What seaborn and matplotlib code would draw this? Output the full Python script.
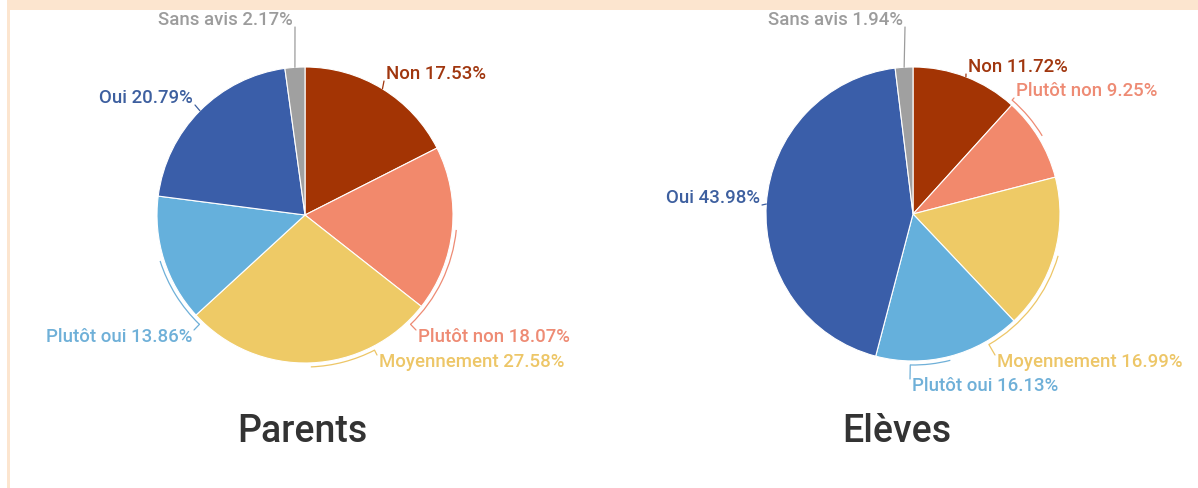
import numpy as np
import matplotlib
matplotlib.use("Agg")
import matplotlib.pyplot as plt
from matplotlib.patches import Rectangle, Arc
import seaborn as sns

# Survey answers, in clockwise order from 12 o'clock
categories = ["Non", "Plutôt non", "Moyennement", "Plutôt oui", "Oui", "Sans avis"]
parents = [17.53, 18.07, 27.58, 13.86, 20.79, 2.17]
eleves = [11.72, 9.25, 16.99, 16.13, 43.98, 1.94]
titles = ["Parents", "Elèves"]

sns.set_theme(style="white")
plt.rcParams["font.family"] = ["Roboto", "DejaVu Sans"]

slice_colors = sns.color_palette(["#A33404", "#F2896C", "#EECA66", "#65B0DC", "#3A5EA9", "#A0A0A0"])
text_colors = ["#A0360E", "#EE8B74", "#EDC667", "#6FB0D8", "#3D5F9F", "#9C9C9C"]

W, H = 1198, 488
fig = plt.figure(figsize=(W / 100, H / 100), dpi=100, facecolor="white")
ax = fig.add_axes([0, 0, 1, 1])

# page frame
ax.add_patch(Rectangle((7, 0), W - 7, H, facecolor="#FCE5CF", edgecolor="none", zorder=0))
ax.add_patch(Rectangle((10, 0), W - 10, H - 10, facecolor="white", edgecolor="none", zorder=0))


def yy(y_top):
    return H - y_top


# layout of each pie: centre, radius, label anchors (x, y_top, ha), leader style
layouts = [
    dict(center=(305, 215), radius=148, title_x=302,
         labels=[(386, 74, "left"), (418, 337, "left"), (379, 362, "left"),
                 (192, 337, "right"), (193, 98, "right"), (293, 20, "right")],
         arc=[False, True, True, True, False, False]),
    dict(center=(913, 214), radius=147, title_x=897,
         labels=[(968, 67, "left"), (1016, 91, "left"), (997, 362, "left"),
                 (912, 386, "left"), (760, 198, "right"), (903, 20, "right")],
         arc=[False, True, True, True, False, False]),
]

for values, title, lay in zip([parents, eleves], titles, layouts):
    cx, cy = lay["center"]
    cy = yy(cy)
    r = lay["radius"]
    ax.pie(values, colors=slice_colors, startangle=90, counterclock=False,
           radius=r, center=(cx, cy), frame=False,
           wedgeprops=dict(edgecolor="white", linewidth=0.8))
    cum = np.cumsum([0] + values)
    for i, (cat, v) in enumerate(zip(categories, values)):
        a0 = 90 - cum[i] / 100 * 360
        a1 = 90 - cum[i + 1] / 100 * 360
        mid = (a0 + a1) / 2
        lx, ly, ha = lay["labels"][i]
        ly = yy(ly)
        col = text_colors[i]
        # where the leader meets the label
        tx = lx + (-2 if ha == "left" else 2)
        ty = ly + 7 if ly < cy else ly - 7
        if lay["arc"][i]:
            rb = r + 4
            end = np.degrees(np.arctan2(ty - cy, tx - cx))
            if end - mid > 180:
                end -= 360
            if mid - end > 180:
                end += 360
            ax.add_patch(Arc((cx, cy), 2 * rb, 2 * rb, theta1=min(mid, end),
                             theta2=max(mid, end), color=col, lw=0.9, zorder=3))
            e = np.deg2rad(end)
            px, py = cx + rb * np.cos(e), cy + rb * np.sin(e)
        else:
            m = np.deg2rad(mid)
            px, py = cx + r * np.cos(m), cy + r * np.sin(m)
        ax.plot([px, tx], [py, ty], color=col, lw=0.9, zorder=3,
                solid_capstyle="round")
        ax.text(lx, ly, f"{cat} {v:.2f}%", ha=ha, va="center",
                fontsize=13.4, fontweight="medium", color=col, zorder=4)
    ax.text(lay["title_x"], yy(432), title, ha="center", va="center",
            fontsize=27, fontweight="medium", color="#333333")

# the pies reset the view, so fix the pixel-sized canvas afterwards
ax.set_xlim(0, W)
ax.set_ylim(0, H)
ax.set_aspect("equal")
ax.axis("off")

fig.savefig("out.png", dpi=100, facecolor=fig.get_facecolor())
